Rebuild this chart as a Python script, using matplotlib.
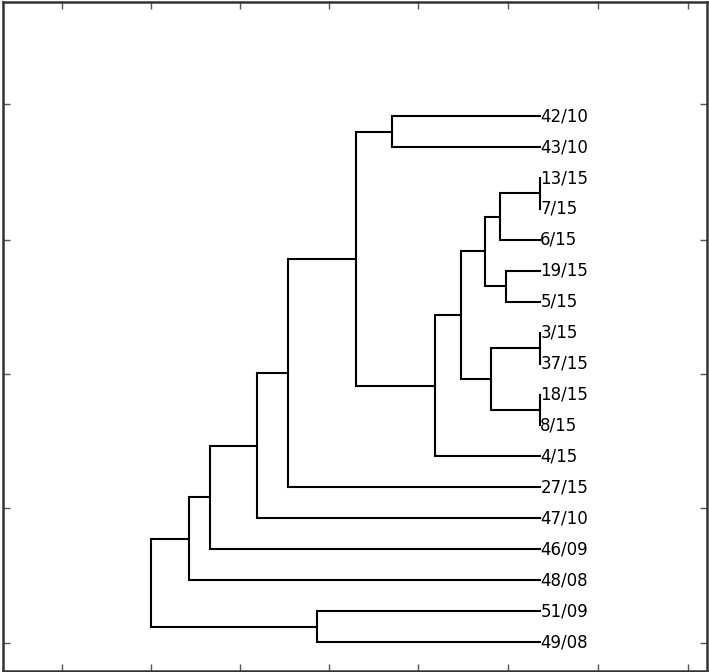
import numpy as np
import matplotlib
matplotlib.use('Agg')
import matplotlib.pyplot as plt


# Hojas del dendrograma (de arriba hacia abajo)
etiquetas = ['42/10', '43/10', '13/15', '7/15', '6/15', '19/15', '5/15',
             '3/15', '37/15', '18/15', '8/15', '4/15', '27/15', '47/10',
             '46/09', '48/08', '51/09', '49/08']

# Uniones: indices < n son hojas, >= n son grupos ya formados
hijo_a = [2, 7, 9, 5, 18, 19, 22, 24, 25, 0, 16, 27, 29, 30, 31, 32, 33]
hijo_b = [3, 8, 10, 6, 4, 20, 21, 23, 11, 1, 17, 26, 12, 13, 14, 15, 28]
altura = [0.0, 0.0, 0.0, 0.38, 0.45, 0.55, 0.62, 0.89, 1.18, 1.66, 2.50,
          2.06, 2.82, 3.17, 3.70, 3.93, 4.36]

xticks = [5.35, 4.36, 3.36, 2.36, 1.37, 0.36, -0.64, -1.65]
yticks = [0.97, 5.33, 9.68, 14.0, 18.39]


def dibujar_dendrograma(ax):
    n = len(etiquetas)
    pos_y = {i: n - i for i in range(n)}
    pos_x = {i: 0.0 for i in range(n)}
    for k, (a, b, h) in enumerate(zip(hijo_a, hijo_b, altura)):
        ya, yb = pos_y[a], pos_y[b]
        xa, xb = pos_x[a], pos_x[b]
        ax.plot([xa, h, h, xb], [ya, ya, yb, yb], color='black', lw=1.5,
                solid_joinstyle='miter')
        pos_y[n + k] = (ya + yb) / 2
        pos_x[n + k] = h
    for i, lab in enumerate(etiquetas):
        ax.text(0.0, pos_y[i], lab, ha='left', va='center', fontsize=12,
                family='DejaVu Sans')


fig = plt.figure(figsize=(7.09, 6.72), dpi=100)
ax = fig.add_axes([2.5 / 709, 1.5 / 672, 704 / 709, 668.5 / 672])
dibujar_dendrograma(ax)

ax.set_xlim(6.02, -1.86)
ax.set_ylim(0.08, 21.69)
ax.set_xticks(xticks)
ax.set_yticks(yticks)
ax.set_xticklabels([])
ax.set_yticklabels([])
ax.tick_params(direction='in', length=5, width=1, color='#555555',
               top=True, right=True)
for s in ax.spines.values():
    s.set_color('#333333')
    s.set_linewidth(1.8)

fig.savefig('out.png', dpi=100)
